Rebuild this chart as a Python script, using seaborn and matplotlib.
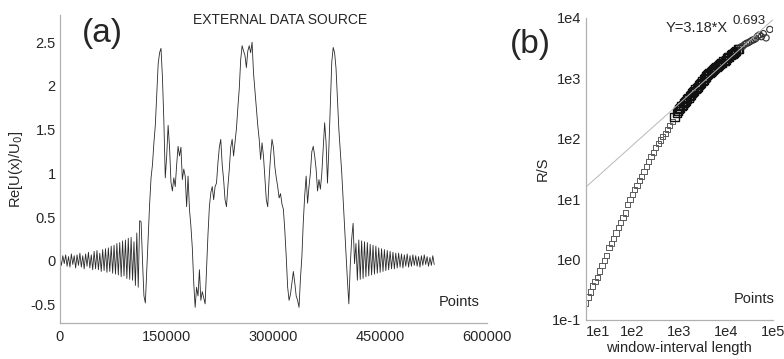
# ==========================
# IMPORT LIBRARIES
# ==========================
import numpy as np
import pandas as pd
import matplotlib
matplotlib.use("Agg")
import matplotlib.pyplot as plt
import seaborn as sns

# ==========================
# DATA
# ==========================

# (a) signal, one value every 2000 points, starting at 0
step = 2000
left_tail = [
    0.04, -0.05, 0.06, -0.03, 0.07, -0.06, 0.05, -0.07, 0.08, -0.04,
    0.06, -0.08, 0.07, -0.05, 0.09, -0.07, 0.06, -0.09, 0.08, -0.06,
    0.10, -0.08, 0.07, -0.10, 0.11, -0.09, 0.12, -0.10, 0.09, -0.12,
    0.13, -0.11, 0.14, -0.13, 0.15, -0.12, 0.17, -0.14, 0.18, -0.15,
    0.20, -0.16, 0.21, -0.18, 0.23, -0.17, 0.24, -0.20, 0.26, -0.21,
    0.27, -0.22, 0.22, -0.28, 0.32, -0.30,
]
middle = [
    0.46, 0.45, 0.0, -0.40, -0.48, -0.1, 0.3, 0.65, 0.95, 1.1,        # 112k
    1.35, 1.55, 1.9, 2.25, 2.38, 2.43, 2.1, 1.6, 0.95, 1.2,           # 132k
    1.55, 1.3, 0.9, 0.8, 0.95, 0.85, 1.1, 1.31, 1.2, 1.3,             # 152k
    0.93, 1.05, 0.97, 0.62, 0.97, 0.59, 0.4, 0.15, -0.25, -0.53,      # 172k
    -0.3, -0.4, -0.1, -0.45, -0.35, -0.42, -0.49, -0.1, 0.3, 0.62,    # 192k
    0.78, 0.85, 0.7, 0.85, 0.89, 1.12, 1.3, 1.39, 1.1, 0.93,          # 212k
    0.7, 0.62, 0.85, 1.05, 1.3, 1.39, 1.2, 1.35, 1.51, 1.75,          # 232k
    1.97, 2.3, 2.46, 2.4, 2.35, 2.21, 2.4, 2.46, 2.38, 2.5,           # 252k
    2.15, 1.95, 1.75, 1.55, 1.39, 1.16, 1.35, 1.2, 0.95, 0.7,         # 272k
    0.62, 0.95, 1.2, 1.39, 1.3, 1.08, 0.95, 0.85, 0.72, 0.77,         # 292k
    0.65, 0.59, 0.35, 0.05, -0.3, -0.45, -0.38, -0.25, -0.12, -0.25,  # 312k
    -0.4, -0.45, -0.53, -0.2, 0.05, 0.45, 0.75, 0.97, 0.66, 0.85,     # 332k
    1.01, 1.25, 1.31, 1.2, 1.05, 0.8, 0.93, 0.82, 1.0, 1.3,           # 352k
    1.58, 1.35, 0.89, 1.3, 1.8, 2.27, 2.44, 2.38, 2.2, 1.85,          # 372k
    1.5, 1.25, 1.01, 0.7, 0.4, 0.1, -0.22, -0.49, -0.05, 0.25,        # 392k
    0.43, -0.03, 0.2,                                                 # 412k
]
right_tail = [
    -0.22, 0.24, -0.21, 0.23, -0.20, 0.22, -0.18, 0.21, -0.17, 0.19,
    -0.16, 0.18, -0.15, 0.17, -0.14, 0.15, -0.13, 0.14, -0.12, 0.13,
    -0.11, 0.12, -0.10, 0.11, -0.09, 0.10, -0.09, 0.09, -0.08, 0.09,
    -0.07, 0.08, -0.08, 0.07, -0.06, 0.08, -0.07, 0.06, -0.06, 0.07,
    -0.05, 0.06, -0.06, 0.05, -0.07, 0.06, -0.05, 0.07, -0.04, 0.05,
    -0.06, 0.04, -0.05, 0.06, -0.04,
]

# (b) R/S analysis, log10 of window length and log10 of R/S
log_n = [
    1.00, 1.05, 1.10, 1.15, 1.20, 1.25, 1.30, 1.35, 1.40, 1.45,
    1.50, 1.55, 1.60, 1.65, 1.70, 1.75, 1.80, 1.85, 1.90, 1.95,
    2.00, 2.05, 2.10, 2.15, 2.20, 2.25, 2.30, 2.35, 2.40, 2.45,
    2.50, 2.55, 2.60, 2.65, 2.70, 2.75, 2.80, 2.85, 2.90, 2.95,
    2.975, 3.00, 3.025, 3.05, 3.075, 3.10, 3.125, 3.15, 3.175, 3.20,
    3.225, 3.25, 3.275, 3.30, 3.325, 3.35, 3.375, 3.40, 3.425, 3.45,
    3.475, 3.50, 3.525, 3.55, 3.575, 3.60, 3.625, 3.65, 3.675, 3.70,
    3.725, 3.75, 3.775, 3.80, 3.825, 3.85, 3.875, 3.90, 3.925, 3.95,
    3.975, 4.00, 4.025, 4.05, 4.075, 4.10, 4.125, 4.15, 4.175, 4.20,
    4.225, 4.25, 4.275,
    4.32, 4.36, 4.40, 4.44, 4.48, 4.52, 4.56, 4.60, 4.64, 4.68,
    4.72, 4.76, 4.80, 4.86, 4.94,
]
log_rs = [
    -0.72, -0.62, -0.54, -0.44, -0.37, -0.30, -0.19, -0.10, -0.02, 0.07,
    0.20, 0.27, 0.35, 0.44, 0.53, 0.61, 0.69, 0.77, 0.91, 1.00,
    1.08, 1.16, 1.23, 1.31, 1.38, 1.46, 1.54, 1.62, 1.70, 1.77,
    1.85, 1.92, 1.98, 2.04, 2.09, 2.15, 2.22, 2.29, 2.36, 2.42,
    2.46, 2.49, 2.51, 2.54, 2.56, 2.59, 2.61, 2.63, 2.66, 2.68,
    2.70, 2.72, 2.75, 2.77, 2.79, 2.82, 2.84, 2.86, 2.89, 2.91,
    2.93, 2.96, 2.98, 3.00, 3.03, 3.05, 3.07, 3.09, 3.11, 3.12,
    3.14, 3.16, 3.17, 3.19, 3.20, 3.22, 3.24, 3.25, 3.26, 3.28,
    3.29, 3.31, 3.33, 3.35, 3.36, 3.38, 3.40, 3.41, 3.42, 3.44,
    3.46, 3.48, 3.49,
    3.52, 3.53, 3.56, 3.58, 3.59, 3.61, 3.63, 3.64, 3.66, 3.70,
    3.72, 3.69, 3.74, 3.67, 3.81,
]

# fitted power law Y = 3.18 * X^0.693, drawn between the axis limits
fit_a = 3.18
fit_b = 0.693
fit_n = [10, 100000]

x_ticks_a = [0, 150000, 300000, 450000, 600000]
y_ticks_a = [-0.5, 0, 0.5, 1, 1.5, 2, 2.5]
y_labels_a = ["-0.5", "0", "0.5", "1", "1.5", "2", "2.5"]
x_ticks_b = [1e1, 1e2, 1e3, 1e4, 1e5]
x_labels_b = ["1e1", "1e2", "1e3", "1e4", "1e5"]
y_ticks_b = [1e-1, 1e0, 1e1, 1e2, 1e3, 1e4]
y_labels_b = ["1e-1", "1e0", "1e1", "1e2", "1e3", "1e4"]

# ==========================
# BUILD TABLES
# ==========================
signal = left_tail + middle + right_tail
sig_df = pd.DataFrame({
    "Points": np.arange(len(signal)) * step,
    "Re": signal,
})

rs_df = pd.DataFrame({
    "logn": log_n,
    "n": 10 ** np.array(log_n),
    "RS": 10 ** np.array(log_rs),
})
low_df = rs_df[rs_df["logn"] < 2.9]
dense_df = rs_df[(rs_df["logn"] >= 2.9) & (rs_df["logn"] < 4.3)]
top_df = rs_df[rs_df["logn"] >= 4.3]

fit_df = pd.DataFrame({"n": fit_n})
fit_df["RS"] = fit_a * fit_df["n"] ** fit_b

# ==========================
# PLOT
# ==========================
sns.set_style("white")
plt.rcParams["font.family"] = ["Liberation Sans", "DejaVu Sans"]
plt.rcParams["font.size"] = 10.5

fig = plt.figure(figsize=(7.84, 3.59), dpi=100)
ax1 = fig.add_axes([0.0765, 0.100, 0.5445, 0.858])
ax2 = fig.add_axes([0.747, 0.109, 0.2385, 0.841])

spine_col = "#b0b0b0"

# ---- (a) ----
sns.lineplot(data=sig_df, x="Points", y="Re", ax=ax1,
             color="#2a2a2a", linewidth=0.6, estimator=None)
ax1.set_xlim(0, 600000)
ax1.set_ylim(-0.71, 2.81)
ax1.set_xticks(x_ticks_a)
ax1.set_xticklabels([str(t) for t in x_ticks_a])
ax1.set_yticks(y_ticks_a)
ax1.set_yticklabels(y_labels_a)
ax1.set_xlabel("")
ax1.set_ylabel("Re[U(x)/U$_0$]", labelpad=4)
ax1.text(0.935, 0.045, "Points", transform=ax1.transAxes,
         ha="center", va="bottom", fontsize=10.5)
ax1.text(0.10, 0.94, "(a)", transform=ax1.transAxes,
         ha="center", va="center", fontsize=24)

# ---- (b) ----
sns.lineplot(data=fit_df, x="n", y="RS", ax=ax2,
             color="#b8b8b8", linewidth=0.7)
sns.scatterplot(data=low_df, x="n", y="RS", marker="s", ax=ax2,
                s=14, facecolor="none", edgecolor="#5a5a5a",
                linewidth=0.7, legend=False)
sns.scatterplot(data=dense_df, x="n", y="RS", marker="s", ax=ax2,
                s=34, facecolor="none", edgecolor="#111111",
                linewidth=1.0, legend=False)
sns.scatterplot(data=top_df, x="n", y="RS", marker="o", ax=ax2,
                s=20, facecolor="none", edgecolor="#333333",
                linewidth=0.8, legend=False)
ax2.set_xscale("log")
ax2.set_yscale("log")
ax2.set_xlim(1e1, 1e5)
ax2.set_ylim(1e-1, 1e4)
ax2.set_xticks(x_ticks_b)
ax2.set_xticklabels(x_labels_b)
ax2.set_yticks(y_ticks_b)
ax2.set_yticklabels(y_labels_b)
ax2.get_xticklabels()[0].set_ha("left")
ax2.set_xlabel("window-interval length", labelpad=1)
ax2.set_ylabel("R/S", labelpad=2)
ax2.text(0.90, 0.045, "Points", transform=ax2.transAxes,
         ha="center", va="bottom", fontsize=10.5)
ax2.text(0.76, 0.968, "Y=3.18*X", transform=ax2.transAxes,
         ha="right", va="center", fontsize=10.5)
ax2.text(0.786, 0.99, "0.693", transform=ax2.transAxes,
         ha="left", va="center", fontsize=9.5)
fig.text(530 / 784, 1 - 45 / 359, "(b)", ha="center", va="center", fontsize=24)

for ax in (ax1, ax2):
    sns.despine(ax=ax)
    for side in ("left", "bottom"):
        ax.spines[side].set_color(spine_col)
        ax.spines[side].set_linewidth(0.9)
    ax.tick_params(which="both", direction="in", color=spine_col,
                   length=4, width=0.7, pad=3, labelsize=10.5)
    ax.tick_params(which="minor", length=2)

ax1.tick_params(axis="x", pad=5)
ax2.tick_params(axis="x", pad=4)

fig.text(280 / 784, 1 - 20 / 359, "EXTERNAL DATA SOURCE",
         ha="center", va="center", fontsize=10)

fig.savefig("out.png", dpi=100)
